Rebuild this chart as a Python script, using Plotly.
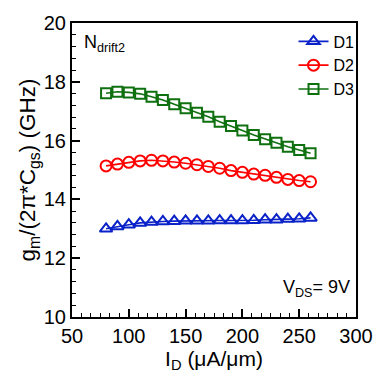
import plotly.graph_objects as go

# Drain current density (uA/um)
id_current = [80, 90, 100, 110, 120, 130, 140, 150, 160, 170,
              180, 190, 200, 210, 220, 230, 240, 250, 260]

# gm / (2*pi*Cgs) in GHz for the three devices
ft_d1 = [13.00, 13.08, 13.14, 13.20, 13.23, 13.25, 13.26, 13.27, 13.27, 13.27,
         13.28, 13.28, 13.28, 13.29, 13.31, 13.31, 13.33, 13.34, 13.37]
ft_d2 = [15.14, 15.20, 15.26, 15.31, 15.33, 15.31, 15.27, 15.23, 15.18, 15.12,
         15.06, 14.98, 14.92, 14.86, 14.82, 14.75, 14.68, 14.64, 14.60]
ft_d3 = [17.61, 17.66, 17.64, 17.59, 17.49, 17.38, 17.24, 17.10, 16.95, 16.81,
         16.64, 16.50, 16.34, 16.19, 16.05, 15.93, 15.79, 15.68, 15.57]

series = [
    ("D1", ft_d1, "#0a22c8", "triangle-up-open", 11),
    ("D2", ft_d2, "#ff0000", "circle-open", 11),
    ("D3", ft_d3, "#0f700f", "square-open", 10),
]

FONT = "Liberation Sans, Arial, sans-serif"

fig = go.Figure()
for name, vals, color, symbol, size in series:
    fig.add_trace(go.Scatter(
        x=id_current, y=vals, name=name, mode="lines+markers",
        line=dict(color=color, width=1.6),
        marker=dict(symbol=symbol, size=size, color=color,
                    line=dict(color=color, width=2)),
    ))

axis_common = dict(
    showline=True, linecolor="black", linewidth=2, mirror=True,
    ticks="inside", ticklen=8, tickwidth=1.5, tickcolor="black",
    showgrid=False, zeroline=False,
    tickfont=dict(family=FONT, size=20, color="black"),
)

fig.update_xaxes(
    range=[50, 300], tick0=50, dtick=50,
    minor=dict(ticks="inside", ticklen=4, tickwidth=1.2, tickcolor="black",
               tick0=50, dtick=50 / 6, showgrid=False),
    title=dict(text="I<sub>D</sub> (\u03bcA/\u03bcm)",
               font=dict(family=FONT, size=21, color="black"), standoff=5),
    **axis_common,
)
fig.update_yaxes(
    range=[10, 20], tick0=10, dtick=2,
    minor=dict(ticks="inside", ticklen=4, tickwidth=1.2, tickcolor="black",
               tick0=10, dtick=0.4, showgrid=False),
    title=dict(text="g<sub>m</sub>/(2\u03c0*C<sub>gs</sub>) (GHz)",
               font=dict(family=FONT, size=22.5, color="black"), standoff=2),
    **axis_common,
)

fig.add_annotation(
    text="N<sub>drift2</sub>", xref="paper", yref="paper",
    x=0.035, y=0.975, xanchor="left", yanchor="top", showarrow=False,
    font=dict(family=FONT, size=18, color="black"),
)
fig.add_annotation(
    text="V<sub>DS</sub>= 9V", xref="paper", yref="paper",
    x=0.985, y=0.05, xanchor="right", yanchor="bottom", showarrow=False,
    font=dict(family=FONT, size=18, color="black"),
)

fig.update_layout(
    width=385, height=382,
    margin=dict(l=72, r=20, t=23, b=65),
    paper_bgcolor="white", plot_bgcolor="white",
    showlegend=True,
    legend=dict(
        x=0.78, y=0.995, xanchor="left", yanchor="top",
        bgcolor="rgba(0,0,0,0)", borderwidth=0,
        font=dict(family=FONT, size=16, color="black"),
        tracegroupgap=0, itemwidth=30,
    ),
)

fig.write_html("out.html")
